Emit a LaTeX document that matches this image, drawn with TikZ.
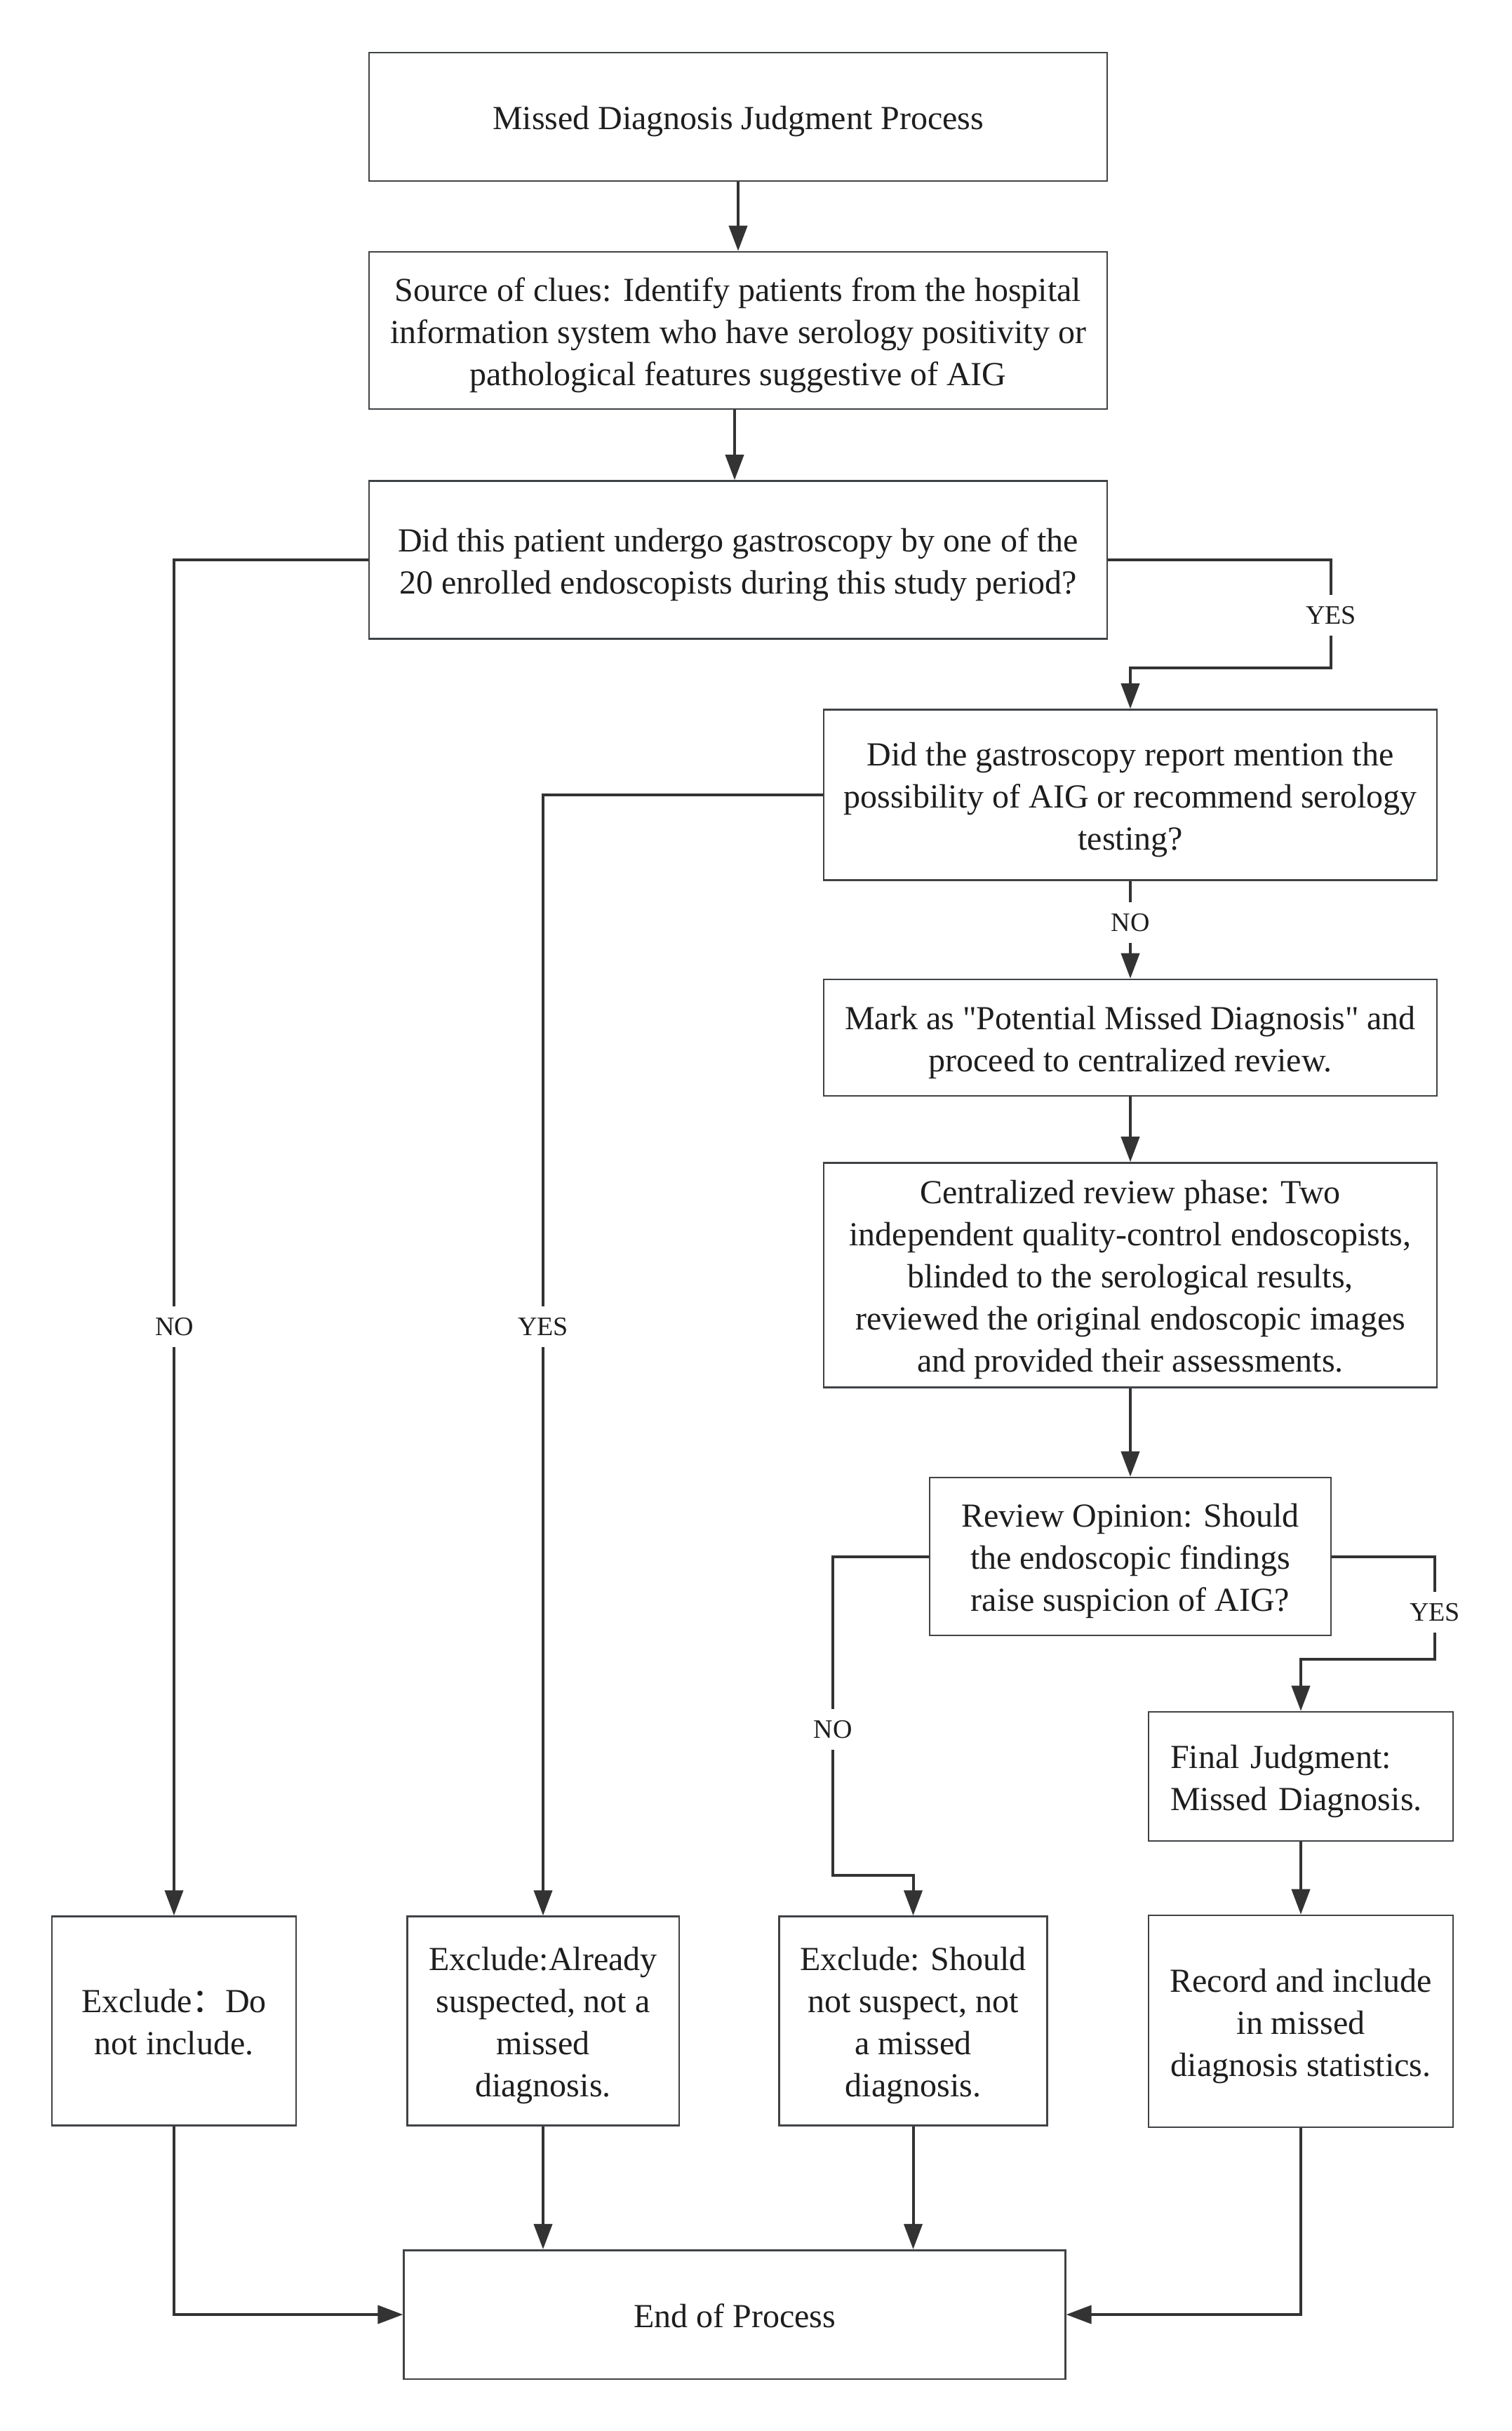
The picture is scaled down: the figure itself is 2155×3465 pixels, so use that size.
\documentclass[tikz,border=0pt]{standalone}
\usepackage{fontspec}
\setmainfont{Liberation Serif}[Ligatures=TeXOff]
\newfontfamily\cjk{Noto Sans CJK SC}
\usetikzlibrary{arrows.meta}
\definecolor{edge}{HTML}{404346}
\definecolor{conn}{HTML}{333333}
\definecolor{txt}{HTML}{1E1E1E}
\newcommand\tst{\rule{0pt}{24pt}}
\newcommand\bst{\rule[-6pt]{0pt}{0pt}}
\tikzset{
  box/.style={draw=edge, line width=1.3pt, fill=white, inner sep=0pt, align=center,
    text=txt, font=\fontsize{24}{30}\selectfont},
  conn/.style={draw=conn, line width=2pt, -{Triangle[length=18pt,width=13pt]}},
  lbl/.style={fill=white, inner xsep=2pt, inner ysep=8pt, text=txt,
    font=\fontsize{19}{23}\selectfont},
}
\begin{document}
\begin{tikzpicture}[x=0.5pt,y=-0.5pt]
\useasboundingbox[fill=white] (0,0) rectangle (2155,3465);
% nodes
\node[box, minimum width=526pt, minimum height=91.5pt] (title) at (1052,166.5) {\tst Missed Diagnosis Judgment Process\bst};
\node[box, minimum width=526pt, minimum height=112pt] (src) at (1052,471) {\tst Source of clues: Identify patients from the hospital\\information system who have serology positivity or\\pathological features suggestive of AIG\bst};
\node[box, minimum width=526pt, minimum height=112.5pt] (q1) at (1052,798) {\tst Did this patient undergo gastroscopy by one of the\\20 enrolled endoscopists during this study period?\bst};
\node[box, minimum width=437pt, minimum height=121.5pt] (q2) at (1611,1133) {\tst Did the gastroscopy report mention the\\possibility of AIG or recommend serology\\testing?\bst};
\node[box, minimum width=437pt, minimum height=83pt] (mark) at (1611,1479) {\tst Mark as "Potential Missed Diagnosis" and\\proceed to centralized review.\bst};
\node[box, minimum width=437pt, minimum height=160pt] (rev) at (1611,1817.5) {\tst Centralized review phase: Two\\independent quality-control endoscopists,\\blinded to the serological results,\\reviewed the original endoscopic images\\and provided their assessments.\bst};
\node[box, minimum width=286pt, minimum height=112.5pt] (op) at (1611,2218.5) {\tst Review Opinion: Should\\the endoscopic findings\\raise suspicion of AIG?\bst};
\node[box, minimum width=217pt, minimum height=92pt, align=left, text width=186pt, inner xsep=15.5pt] (fin) at (1854,2532) {\tst Final Judgment:\\Missed Diagnosis.\bst};
\node[box, minimum width=174pt, minimum height=149pt] (b1) at (248,2880.6) {\tst Exclude{\cjk ：}Do\\not include.\bst};
\node[box, minimum width=193.8pt, minimum height=149pt] (b2) at (774,2880.6) {\tst Exclude:Already\\suspected, not a\\missed\\diagnosis.\bst};
\node[box, minimum width=191pt, minimum height=149pt] (b3) at (1301.5,2880.6) {\tst Exclude: Should\\not suspect, not\\a missed\\diagnosis.\bst};
\node[box, minimum width=217pt, minimum height=151pt] (b4) at (1854,2881) {\tst Record and include\\in missed\\diagnosis statistics.\bst};
\node[box, minimum width=471.3pt, minimum height=91.8pt] (end) at (1047,3299) {\tst End of Process\bst};
% helper coordinates
\coordinate (c1) at (1897,951.5);
\coordinate (c2) at (1187,2673);
\coordinate (c3) at (2045,2365);
% connectors
\draw[conn] (title.south) -- (src.north);
\draw[conn] ([xshift=-2.5pt]src.south) -- ([xshift=-2.5pt]q1.north);
\draw[conn] (q1.west) -| (b1.north);
\draw[conn] (q1.east) -| (c1) -| (q2.north);
\draw[conn] (q2.west) -| (b2.north);
\draw[conn] (q2.south) -- (mark.north);
\draw[conn] (mark.south) -- (rev.north);
\draw[conn] (rev.south) -- (op.north);
\draw[conn] (op.west) -| (c2) -| (b3.north);
\draw[conn] (op.east) -| (c3) -| (fin.north);
\draw[conn] (fin.south) -- (b4.north);
\draw[conn] (b1.south) |- (end.west);
\draw[conn] (b2.south) -- (b2.south |- end.north);
\draw[conn] (b3.south) -- (b3.south |- end.north);
\draw[conn] (b4.south) |- (end.east);
% labels
\node[lbl] (l1) at (249,1891) {NO};
\node[lbl] (l2) at (1897,877) {YES};
\node[lbl] (l3) at (774,1891) {YES};
\node[lbl] (l4) at (1611,1315) {NO};
\node[lbl] (l5) at (1187,2465) {NO};
\node[lbl] (l6) at (2045,2298) {YES};
\end{tikzpicture}
\end{document}
